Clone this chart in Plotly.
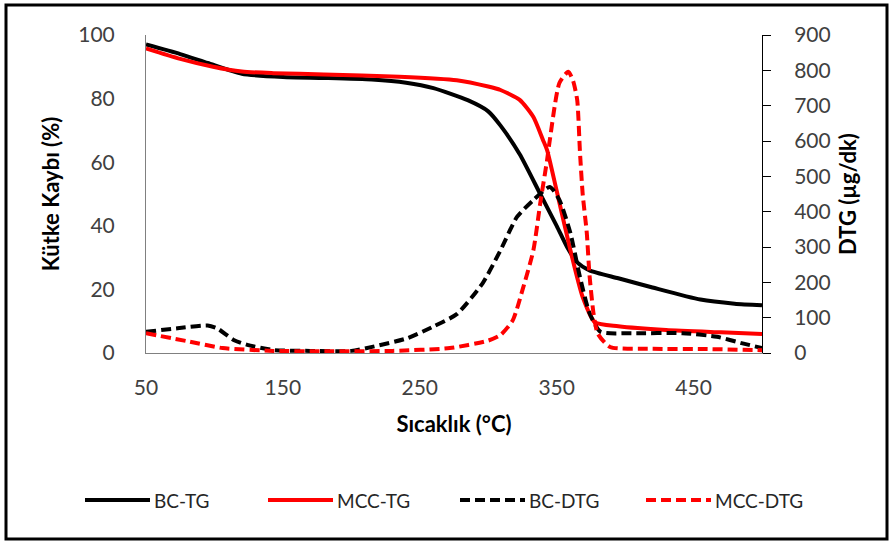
import plotly.graph_objects as go

# ---- data ----
bc_tg_T = [50, 75, 95, 120, 150, 180, 215, 240, 260, 285, 300, 309, 323, 338, 350, 358, 365, 374, 395, 420, 455, 480, 500]
bc_tg_v = [97, 94, 91.2, 87.8, 86.8, 86.5, 86, 85, 83.3, 79.5, 76, 71.5, 62.5, 50, 40, 33, 28.5, 26, 23.5, 20.6, 16.8, 15.5, 15]

mcc_tg_T = [50, 75, 99, 120, 143, 180, 235, 277, 300, 309, 323, 333, 340, 343, 350, 360, 369, 378, 395, 430, 470, 500]
mcc_tg_v = [95.8, 92.5, 90, 88.5, 88, 87.6, 86.9, 85.8, 83.8, 82.7, 79.6, 74.2, 67, 63.8, 51, 32.4, 17.6, 9.6, 8.4, 7.2, 6.5, 6]

bc_dtg_T = [50, 73, 95, 102, 114, 124, 143, 170, 200, 216, 241, 260, 277, 296, 309, 321, 333, 345, 352, 360, 367, 374, 382, 405, 442, 467, 485, 500]
bc_dtg_d = [60, 70, 78, 70, 37, 23, 8.5, 6, 6, 18, 42, 75, 110, 198, 291, 385, 433, 470, 433, 340, 215, 113, 60, 56, 56, 46, 28, 14]

mcc_dtg_T = [50, 82, 106, 143, 180, 230, 272, 300, 309, 318, 325, 333, 338, 343, 345, 352, 358.5, 362, 365, 367, 369, 372, 374, 377, 380, 389, 420, 460, 500]
mcc_dtg_d = [56, 32, 14, 6, 5, 6, 14, 35, 51, 93, 178, 291, 424, 546, 603, 764, 796, 770, 716, 570, 450, 340, 220, 110, 55, 17, 12, 11, 8]

names = ["BC-TG", "MCC-TG", "BC-DTG", "MCC-DTG"]
colors = ["#000000", "#ff0000", "#000000", "#ff0000"]
dashes = ["solid", "solid", "10px,5px", "10px,5px"]

x_ticks = [50, 150, 250, 350, 450]

fig = go.Figure()
series = [(bc_tg_T, bc_tg_v, "y"), (mcc_tg_T, mcc_tg_v, "y"),
          (bc_dtg_T, bc_dtg_d, "y2"), (mcc_dtg_T, mcc_dtg_d, "y2")]
for (xs, ys, ax), nm, c, d in zip(series, names, colors, dashes):
    fig.add_trace(go.Scatter(x=xs, y=ys, name=nm, yaxis=ax, mode="lines",
                             line=dict(color=c, width=4, dash=d, shape="spline", smoothing=0.6),
                             showlegend=False))

L, R, T, B = 146, 131, 35, 190
W, H = 893, 543
pw, ph = W - L - R, H - T - B

def px(x):
    return (x - L) / pw

def py(y):
    return (H - B - y) / ph

shapes = []
annotations = []
# manual legend (long line glyphs like the original)
leg_x = [85, 268, 460, 646]
leg_y = 500
for x0, nm, c, d in zip(leg_x, names, colors, dashes):
    shapes.append(dict(type="line", xref="paper", yref="paper",
                       x0=px(x0), x1=px(x0 + 65), y0=py(leg_y), y1=py(leg_y),
                       line=dict(color=c, width=4, dash=d)))
    annotations.append(dict(text=nm, xref="paper", yref="paper", x=px(x0 + 67), y=py(leg_y),
                            xanchor="left", yanchor="middle", showarrow=False,
                            font=dict(family="Lato", size=19, color="#262626")))
# outer frame
shapes.append(dict(type="rect", xref="paper", yref="paper",
                   x0=px(6), x1=px(887), y0=py(539), y1=py(5),
                   line=dict(color="#000000", width=3), layer="above"))

tickfont = dict(family="Lato", size=21, color="#404040")
titlefont = dict(family="Lato", size=22, color="#000000")

fig.update_layout(
    width=W, height=H,
    margin=dict(l=L, r=R, t=T, b=B),
    paper_bgcolor="white", plot_bgcolor="white",
    shapes=shapes, annotations=annotations,
    xaxis=dict(range=[50, 500], tickvals=x_ticks, showgrid=False, zeroline=False,
               showline=True, linecolor="#808080", linewidth=1, ticks="",
               tickfont=tickfont, ticklabelstandoff=16,
               title=dict(text="<b>Sıcaklık (°C)</b>", font=titlefont, standoff=18)),
    yaxis=dict(range=[0, 100], dtick=20, showgrid=False, zeroline=False,
               showline=True, linecolor="#808080", linewidth=1, ticks="",
               tickfont=tickfont, ticklabelstandoff=26,
               title=dict(text="<b>Kütke Kaybı (%)</b>", font=titlefont, standoff=12)),
    yaxis2=dict(range=[0, 900], dtick=100, overlaying="y", side="right",
                showgrid=False, zeroline=False, showline=True, linecolor="#000000",
                linewidth=1, ticks="outside", ticklen=8, tickcolor="#000000",
                tickfont=tickfont, ticklabelstandoff=19,
                title=dict(text="<b>DTG (µg/dk)</b>", font=titlefont, standoff=10)),
)

fig.write_html("out.html", config={"displayModeBar": False},
               post_script="document.body.style.margin='0px';document.body.style.overflow='hidden';")
